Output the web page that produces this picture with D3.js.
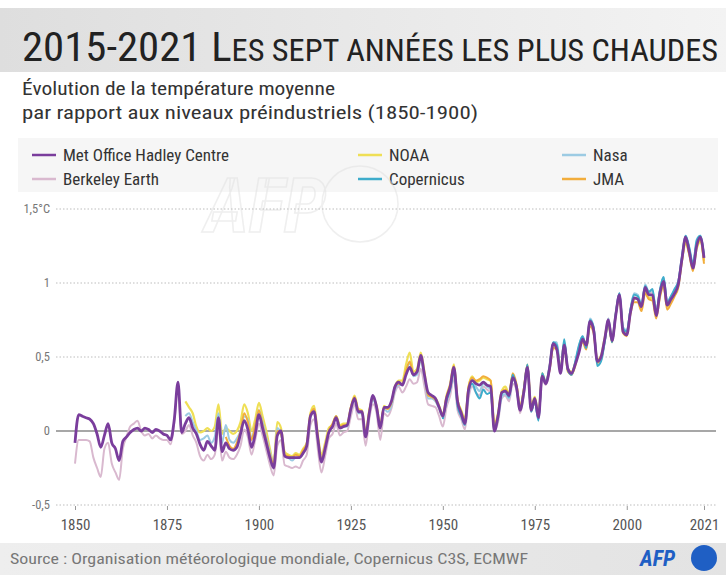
<!DOCTYPE html>
<html>
<head>
<meta charset="utf-8">
<script src="https://cdn.jsdelivr.net/npm/d3@7"></script>
<style>
  body { margin: 0; background: #fff; }
  svg text { font-family: "Liberation Sans Narrow", "Roboto Condensed", "Open Sans", sans-serif; }
</style>
</head>
<body>
<div id="chart"></div>
<script>
// annual anomaly vs 1850-1900 (°C)
var metStart = 1850;
var metOffice = [
  -0.08, 0.11, 0.10, 0.09, 0.08, 0.05, -0.02, -0.11, -0.03, 0.05,
  -0.08, -0.12, -0.20, -0.07, -0.04, -0.01, 0.01, 0.02, 0.00, 0.02,
  0.01, -0.01, 0.01, 0.00, -0.02, -0.03, -0.06, 0.08, 0.33, -0.01,
  0.05, 0.09, 0.02, -0.02, -0.09, -0.13, -0.07, -0.10, -0.13, 0.09,
  -0.14, -0.08, -0.12, -0.13, -0.11, -0.02, 0.07, 0.01, -0.11, -0.02,
  0.11, 0.02, -0.08, -0.18, -0.25, -0.03, 0.00, -0.17, -0.18, -0.18,
  -0.18, -0.18, -0.15, -0.10, 0.10, 0.13, -0.05, -0.21, -0.12, -0.01,
  0.03, 0.09, 0.02, 0.03, 0.04, 0.15, 0.22, 0.13, 0.13, -0.04,
  0.12, 0.24, 0.16, 0.02, 0.16, 0.16, 0.20, 0.30, 0.33, 0.31,
  0.38, 0.43, 0.38, 0.40, 0.51, 0.38, 0.26, 0.24, 0.22, 0.16,
  0.10, 0.22, 0.30, 0.43, 0.20, 0.12, 0.05, 0.28, 0.34, 0.32,
  0.31, 0.33, 0.31, 0.30, 0.00, 0.10, 0.26, 0.27, 0.24, 0.36,
  0.30, 0.14, 0.26, 0.43, 0.14, 0.22, 0.09, 0.37, 0.32, 0.42,
  0.59, 0.55, 0.39, 0.58, 0.42, 0.39, 0.45, 0.53, 0.62, 0.58,
  0.74, 0.68, 0.47, 0.50, 0.62, 0.75, 0.61, 0.78, 0.92, 0.67,
  0.65, 0.80, 0.90, 0.89, 0.84, 0.97, 0.92, 0.92, 0.78, 0.93,
  1.01, 0.85, 0.89, 0.93, 0.99, 1.16, 1.31, 1.21, 1.10, 1.25,
  1.31, 1.17
];

var berkeleyStart = 1850;
var berkeley = [
  -0.22, -0.06, -0.06, -0.06, -0.07, -0.18, -0.25, -0.31, -0.12, -0.08,
  -0.22, -0.28, -0.33, -0.12, -0.04, 0.03, 0.05, 0.07, 0.00, -0.03,
  -0.02, -0.05, -0.03, -0.05, -0.06, -0.06, -0.09, 0.06, 0.30, -0.02,
  0.00, 0.04, -0.03, -0.08, -0.17, -0.20, -0.16, -0.19, -0.16, 0.02,
  -0.20, -0.14, -0.18, -0.19, -0.16, -0.10, 0.01, -0.04, -0.16, -0.06,
  0.05, -0.03, -0.13, -0.23, -0.30, -0.10, -0.06, -0.23, -0.24, -0.25,
  -0.24, -0.25, -0.20, -0.16, 0.04, 0.08, -0.12, -0.28, -0.17, -0.05,
  -0.02, 0.05, -0.03, -0.01, 0.00, 0.10, 0.18, 0.08, 0.08, -0.10,
  0.08, 0.18, 0.12, -0.06, 0.12, 0.10, 0.15, 0.26, 0.30, 0.26,
  0.30, 0.35, 0.32, 0.33, 0.42, 0.30, 0.18, 0.17, 0.16, 0.10,
  0.03, 0.16, 0.24, 0.36, 0.14, 0.08, 0.01, 0.22, 0.30, 0.26,
  0.24, 0.30, 0.28, 0.26, 0.00, 0.06, 0.22, 0.24, 0.20, 0.32,
  0.28, 0.12, 0.24, 0.41, 0.13, 0.20, 0.08, 0.36, 0.31, 0.41,
  0.56, 0.56, 0.40, 0.57, 0.41, 0.38, 0.45, 0.55, 0.62, 0.56,
  0.73, 0.69, 0.47, 0.50, 0.62, 0.76, 0.62, 0.78, 0.93, 0.68,
  0.66, 0.81, 0.90, 0.90, 0.83, 0.98, 0.93, 0.94, 0.80, 0.94,
  1.02, 0.86, 0.90, 0.95, 1.01, 1.16, 1.29, 1.22, 1.12, 1.27,
  1.30, 1.16
];

var noaaStart = 1880;
var noaa = [
  0.20, 0.16, 0.12, 0.03, -0.01, 0.00, 0.02, 0.00, 0.03, 0.18,
  -0.02, 0.02, 0.00, -0.02, 0.00, 0.06, 0.18, 0.12, 0.00, 0.08,
  0.19, 0.10, 0.00, -0.12, -0.22, 0.06, 0.02, -0.14, -0.16, -0.17,
  -0.15, -0.16, -0.12, -0.08, 0.12, 0.17, -0.02, -0.16, -0.08, 0.02,
  0.04, 0.10, 0.04, 0.05, 0.05, 0.16, 0.24, 0.15, 0.14, -0.01,
  0.14, 0.22, 0.17, 0.04, 0.17, 0.15, 0.18, 0.30, 0.34, 0.34,
  0.45, 0.53, 0.40, 0.42, 0.53, 0.40, 0.24, 0.23, 0.22, 0.17,
  0.11, 0.24, 0.32, 0.45, 0.21, 0.14, 0.08, 0.30, 0.37, 0.33,
  0.34, 0.36, 0.35, 0.34, 0.05, 0.12, 0.27, 0.30, 0.25, 0.38,
  0.31, 0.17, 0.28, 0.44, 0.17, 0.23, 0.11, 0.39, 0.33, 0.43,
  0.58, 0.57, 0.42, 0.60, 0.42, 0.40, 0.46, 0.54, 0.63, 0.58,
  0.74, 0.68, 0.48, 0.51, 0.63, 0.74, 0.61, 0.79, 0.91, 0.68,
  0.66, 0.81, 0.89, 0.90, 0.84, 0.95, 0.90, 0.90, 0.80, 0.92,
  1.00, 0.84, 0.88, 0.92, 0.98, 1.15, 1.27, 1.20, 1.10, 1.23,
  1.28, 1.15
];

var nasaStart = 1880;
var nasa = [
  0.10, 0.12, 0.06, 0.00, -0.06, -0.05, -0.03, -0.08, -0.04, 0.12,
  -0.08, 0.04, -0.06, -0.08, -0.05, 0.00, 0.10, 0.08, -0.05, 0.04,
  0.14, 0.06, -0.04, -0.14, -0.22, 0.02, -0.02, -0.16, -0.18, -0.20,
  -0.18, -0.18, -0.14, -0.10, 0.09, 0.14, -0.06, -0.18, -0.10, 0.00,
  0.04, 0.10, 0.02, 0.03, 0.03, 0.14, 0.21, 0.12, 0.12, -0.03,
  0.12, 0.21, 0.15, 0.02, 0.15, 0.13, 0.17, 0.28, 0.31, 0.31,
  0.40, 0.46, 0.37, 0.38, 0.48, 0.36, 0.22, 0.22, 0.20, 0.15,
  0.09, 0.21, 0.29, 0.41, 0.19, 0.12, 0.05, 0.27, 0.35, 0.30,
  0.27, 0.32, 0.30, 0.28, 0.02, 0.08, 0.23, 0.25, 0.22, 0.35,
  0.30, 0.14, 0.25, 0.43, 0.14, 0.20, 0.08, 0.37, 0.32, 0.44,
  0.60, 0.60, 0.41, 0.60, 0.42, 0.38, 0.46, 0.57, 0.64, 0.57,
  0.76, 0.70, 0.46, 0.48, 0.60, 0.76, 0.62, 0.80, 0.93, 0.70,
  0.68, 0.82, 0.93, 0.92, 0.85, 0.99, 0.94, 0.95, 0.80, 0.95,
  1.04, 0.87, 0.91, 0.95, 1.00, 1.17, 1.32, 1.23, 1.12, 1.27,
  1.32, 1.18
];

var jmaStart = 1891;
var jma = [
  -0.04, -0.10, -0.12, -0.08, 0.00, 0.12, 0.06, -0.06, 0.04,
  0.14, 0.04, -0.06, -0.16, -0.22, 0.00, -0.02, -0.16, -0.17, -0.18,
  -0.16, -0.17, -0.13, -0.09, 0.11, 0.15, -0.04, -0.19, -0.10, 0.00,
  0.05, 0.10, 0.03, 0.04, 0.04, 0.16, 0.23, 0.14, 0.13, -0.02,
  0.13, 0.23, 0.16, 0.03, 0.16, 0.15, 0.19, 0.30, 0.32, 0.32,
  0.41, 0.47, 0.38, 0.40, 0.50, 0.38, 0.24, 0.23, 0.21, 0.16,
  0.10, 0.23, 0.31, 0.44, 0.21, 0.13, 0.07, 0.30, 0.36, 0.34,
  0.35, 0.37, 0.36, 0.34, 0.04, 0.11, 0.26, 0.28, 0.25, 0.39,
  0.32, 0.16, 0.28, 0.45, 0.16, 0.22, 0.10, 0.38, 0.33, 0.41,
  0.56, 0.55, 0.40, 0.57, 0.40, 0.38, 0.44, 0.55, 0.60, 0.55,
  0.71, 0.66, 0.46, 0.48, 0.61, 0.72, 0.60, 0.78, 0.91, 0.66,
  0.64, 0.79, 0.87, 0.87, 0.81, 0.93, 0.89, 0.88, 0.76, 0.90,
  0.98, 0.82, 0.86, 0.91, 0.97, 1.15, 1.28, 1.19, 1.08, 1.25,
  1.29, 1.13
];

var copernicusStart = 1950;
var copernicus = [
  0.08, 0.20, 0.28, 0.40, 0.17, 0.10, 0.04, 0.27, 0.32, 0.26,
  0.22, 0.28, 0.25, 0.26, 0.00, 0.10, 0.25, 0.27, 0.23, 0.38,
  0.30, 0.14, 0.27, 0.45, 0.13, 0.20, 0.07, 0.39, 0.33, 0.43,
  0.60, 0.58, 0.39, 0.62, 0.41, 0.38, 0.47, 0.58, 0.64, 0.56,
  0.75, 0.70, 0.44, 0.47, 0.60, 0.74, 0.60, 0.79, 0.93, 0.69,
  0.67, 0.82, 0.92, 0.91, 0.85, 0.98, 0.94, 0.96, 0.80, 0.95,
  1.04, 0.87, 0.91, 0.96, 1.01, 1.18, 1.32, 1.24, 1.13, 1.29,
  1.32, 1.19
];

var seriesNames = ['Berkeley Earth', 'NOAA', 'Nasa', 'JMA', 'Copernicus', 'Met Office Hadley Centre'];
var seriesColors = ['#d9b9cf', '#efdf55', '#9ccbe3', '#f2ad3c', '#3eaccb', '#7a3d9c'];
var seriesWidths = [2, 2.2, 2, 2, 2, 2.8];

var xTicks = [1850, 1875, 1900, 1925, 1950, 1975, 2000, 2021];
var yTicks = [-0.5, 0, 0.5, 1, 1.5];
var yTickLabels = ['-0,5', '0', '0,5', '1', '1,5°C'];

var W = 726, H = 575;

var svg = d3.select('#chart').append('svg')
    .attr('width', W)
    .attr('height', H);

var defs = svg.append('defs');
var hg = defs.append('linearGradient').attr('id', 'headGrad');
hg.append('stop').attr('offset', '0%').attr('stop-color', '#dedede');
hg.append('stop').attr('offset', '100%').attr('stop-color', '#f3f3f3');
var fg = defs.append('linearGradient').attr('id', 'footGrad');
fg.append('stop').attr('offset', '0%').attr('stop-color', '#eeeeee');
fg.append('stop').attr('offset', '100%').attr('stop-color', '#e3e3e3');

/* header */
svg.append('rect').attr('x', 0).attr('y', 8).attr('width', W).attr('height', 64).attr('fill', 'url(#headGrad)');

var title = svg.append('text')
    .attr('x', 22).attr('y', 61)
    .attr('fill', '#222')
    .attr('textLength', 696)
    .attr('lengthAdjust', 'spacingAndGlyphs');
title.append('tspan').attr('font-size', 41).text('2015-2021 L');
title.append('tspan').attr('font-size', 31).text('ES SEPT ANNÉES LES PLUS CHAUDES');

svg.append('text').attr('x', 22).attr('y', 95).attr('font-size', 17.5).attr('fill', '#333')
    .attr('textLength', 313).attr('lengthAdjust', 'spacingAndGlyphs')
    .text('Évolution de la température moyenne');
svg.append('text').attr('x', 22).attr('y', 119).attr('font-size', 17.5).attr('fill', '#333')
    .attr('textLength', 456).attr('lengthAdjust', 'spacingAndGlyphs')
    .text('par rapport aux niveaux préindustriels (1850-1900)');

/* legend */
svg.append('rect').attr('x', 18).attr('y', 138).attr('width', 700).attr('height', 54).attr('fill', '#f6f6f6');

var legendItems = [
  { name: 'Met Office Hadley Centre', color: seriesColors[5], x: 32, y: 155 },
  { name: 'NOAA', color: seriesColors[1], x: 358, y: 155 },
  { name: 'Nasa', color: seriesColors[2], x: 562, y: 155 },
  { name: 'Berkeley Earth', color: seriesColors[0], x: 32, y: 179 },
  { name: 'Copernicus', color: seriesColors[4], x: 358, y: 179 },
  { name: 'JMA', color: seriesColors[3], x: 562, y: 179 }
];
var lg = svg.append('g').selectAll('g').data(legendItems).enter().append('g')
    .attr('transform', function(d) { return 'translate(' + d.x + ',' + d.y + ')'; });
lg.append('line').attr('x1', 0).attr('x2', 24).attr('y1', 0).attr('y2', 0)
    .attr('stroke', function(d) { return d.color; }).attr('stroke-width', 2.5);
lg.append('text').attr('x', 31).attr('y', 6).attr('font-size', 17).attr('fill', '#333')
    .text(function(d) { return d.name; });

/* watermark */
var wm = svg.append('g').attr('opacity', 0.55);
wm.append('text').attr('x', 205).attr('y', 232).attr('font-size', 76).attr('font-weight', 'bold')
    .attr('font-style', 'italic').attr('fill', 'none').attr('stroke', '#e2e2e2').attr('stroke-width', 1.5)
    .attr('font-family', 'Liberation Sans, sans-serif').text('AFP');
wm.append('circle').attr('cx', 360).attr('cy', 204).attr('r', 38)
    .attr('fill', 'none').attr('stroke', '#e2e2e2').attr('stroke-width', 1.5);

/* scales */
var x = d3.scaleLinear().domain([1850, 2021]).range([75, 704]);
var y = d3.scaleLinear().domain([-0.5, 1.5]).range([505, 209]);

/* grid */
var grid = svg.append('g');
grid.selectAll('line').data(yTicks).enter().append('line')
    .attr('x1', 56).attr('x2', 716)
    .attr('y1', function(d) { return y(d); }).attr('y2', function(d) { return y(d); })
    .attr('stroke', function(d) { return d === 0 ? '#8a8a8a' : '#bdbdbd'; })
    .attr('stroke-width', function(d) { return d === 0 ? 1.3 : 1; })
    .attr('stroke-dasharray', function(d) { return d === 0 ? null : '1.5,2'; });

grid.selectAll('text').data(yTicks).enter().append('text')
    .attr('x', 50).attr('y', function(d) { return y(d) + 4; })
    .attr('text-anchor', 'end').attr('font-size', 12.5).attr('fill', '#777')
    .text(function(d, i) { return yTickLabels[i]; });

var xAxis = d3.axisBottom(x).tickValues(xTicks).tickFormat(d3.format('d')).tickSize(4).tickPadding(9);
var gx = svg.append('g').attr('transform', 'translate(0,' + 506 + ')').call(xAxis);
gx.select('.domain').remove();
gx.selectAll('line').attr('stroke', '#999');
gx.selectAll('text').attr('font-size', 15).attr('fill', '#555')
    .attr('font-family', '"Liberation Sans Narrow", "Roboto Condensed", sans-serif');

/* lines */
var toPoints = function(values, start) {
    return values.map(function(v, i) { return { year: start + i, value: v }; });
};
var seriesData = [
  toPoints(berkeley, berkeleyStart),
  toPoints(noaa, noaaStart),
  toPoints(nasa, nasaStart),
  toPoints(jma, jmaStart),
  toPoints(copernicus, copernicusStart),
  toPoints(metOffice, metStart)
];

var line = d3.line()
    .x(function(d) { return x(d.year); })
    .y(function(d) { return y(d.value); })
    .curve(d3.curveMonotoneX);

svg.append('g').selectAll('path').data(seriesData).enter().append('path')
    .attr('d', line)
    .attr('fill', 'none')
    .attr('stroke', function(d, i) { return seriesColors[i]; })
    .attr('stroke-width', function(d, i) { return seriesWidths[i]; })
    .attr('stroke-linejoin', 'round')
    .append('title').text(function(d, i) { return seriesNames[i]; });

/* footer */
svg.append('rect').attr('x', 0).attr('y', 543).attr('width', W).attr('height', 32).attr('fill', 'url(#footGrad)');
svg.append('text').attr('x', 10).attr('y', 564).attr('font-size', 14).attr('fill', '#777')
    .attr('textLength', 518).attr('lengthAdjust', 'spacingAndGlyphs')
    .text('Source : Organisation météorologique mondiale, Copernicus C3S, ECMWF');
svg.append('text').attr('x', 640).attr('y', 566).attr('font-size', 22).attr('font-weight', 'bold')
    .attr('font-style', 'italic').attr('fill', '#1f5fc4')
    .attr('font-family', 'Liberation Sans, sans-serif').text('AFP');
svg.append('circle').attr('cx', 704).attr('cy', 558).attr('r', 13).attr('fill', '#1f5fc4');
</script>
</body>
</html>
